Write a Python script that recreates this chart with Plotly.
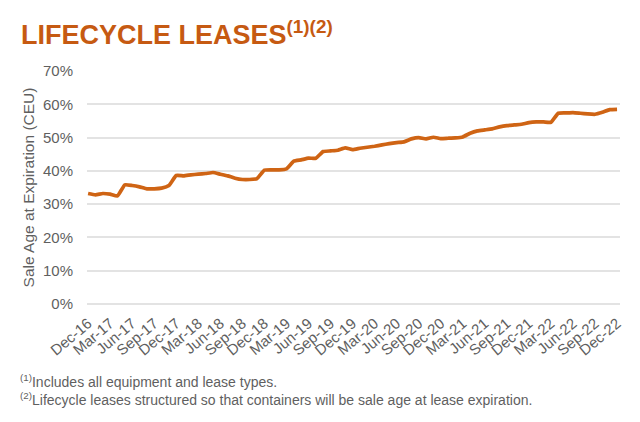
import pandas as pd
import plotly.graph_objects as go

months = [d.strftime("%b-%y") for d in pd.date_range("2016-12-01", "2022-12-01", freq="MS")]
tick_labels = ["Dec-16", "Mar-17", "Jun-17", "Sep-17", "Dec-17", "Mar-18", "Jun-18", "Sep-18",
               "Dec-18", "Mar-19", "Jun-19", "Sep-19", "Dec-19", "Mar-20", "Jun-20", "Sep-20",
               "Dec-20", "Mar-21", "Jun-21", "Sep-21", "Dec-21", "Mar-22", "Jun-22", "Sep-22", "Dec-22"]
sale_age_pct = [33.2, 32.8, 33.2, 33.0, 32.5, 35.8, 35.6, 35.2, 34.6, 34.6, 34.8, 35.6,
                38.6, 38.5, 38.8, 39.0, 39.2, 39.5, 39.0, 38.5, 37.8, 37.4, 37.4, 37.7,
                40.2, 40.3, 40.3, 40.6, 42.9, 43.3, 43.8, 43.8, 45.8, 46.0, 46.2, 46.9,
                46.4, 46.8, 47.1, 47.4, 47.8, 48.2, 48.5, 48.7, 49.6, 50.0, 49.6, 50.1,
                49.7, 49.8, 49.9, 50.2, 51.3, 52.0, 52.3, 52.6, 53.2, 53.6, 53.8, 54.0,
                54.5, 54.7, 54.7, 54.6, 57.3, 57.4, 57.5, 57.3, 57.1, 57.0, 57.6, 58.4, 58.5]
y_ticks = [0, 10, 20, 30, 40, 50, 60, 70]

orange = "#CF6414"
gray = "#5F5F5F"
grid = "#E3E3E3"

# page has an 8px body margin; work in page pixels and convert
OFF = 8
W, H = 640, 422
L, R, T, B = 87 - OFF, 640 - (620 - OFF), 71 - OFF, 422 - (304 - OFF)
pw, ph = W - L - R, H - T - B


def px_x(x):
    return (x - OFF - L) / pw


def px_y(y):
    return (H - B - (y - OFF)) / ph


fig = go.Figure()
fig.add_trace(go.Scatter(x=months, y=sale_age_pct, mode="lines",
                         line=dict(color=orange, width=3.7, shape="spline", smoothing=0.4),
                         hoverinfo="skip"))

fig.update_layout(
    width=W, height=H,
    paper_bgcolor="white", plot_bgcolor="white",
    margin=dict(l=L, r=R, t=T, b=B, autoexpand=False),
    showlegend=False,
    font=dict(family="Liberation Sans, Arial, sans-serif", color=gray),
    xaxis=dict(type="category", categoryorder="array", categoryarray=months,
               tickmode="array", tickvals=tick_labels, ticktext=tick_labels,
               tickangle=-40, tickfont=dict(size=15, color=gray), ticklabelstandoff=7,
               showgrid=False, showline=False, zeroline=False, ticks="",
               range=[-0.15, 72.4]),
    yaxis=dict(range=[0, 70], tickvals=y_ticks,
               ticktext=[f"{v}%" for v in y_ticks],
               tickfont=dict(size=15, color=gray), showgrid=True, gridcolor=grid,
               gridwidth=1.5, zeroline=True, zerolinecolor=grid, zerolinewidth=1.5,
               showline=False, ticks="", ticklabelstandoff=13,
               title=dict(text="Sale Age at Expiration (CEU)", font=dict(size=15.5, color=gray),
                          standoff=4)),
)

fig.add_annotation(xref="paper", yref="paper", x=px_x(19), y=px_y(33),
                   xanchor="left", yanchor="middle", showarrow=False,
                   text="<b>LIFECYCLE LEASES<sup style='font-size:15px'>(1)(2)</sup></b>",
                   font=dict(size=27, color="#C65A12", family="Liberation Sans, Arial, sans-serif"))
fig.add_annotation(xref="paper", yref="paper", x=px_x(18), y=px_y(381),
                   xanchor="left", yanchor="middle", showarrow=False,
                   text="<sup>(1)</sup>Includes all equipment and lease types.",
                   font=dict(size=14, color=gray))
fig.add_annotation(xref="paper", yref="paper", x=px_x(18), y=px_y(399),
                   xanchor="left", yanchor="middle", showarrow=False,
                   text="<sup>(2)</sup>Lifecycle leases structured so that containers will be sale age at lease expiration.",
                   font=dict(size=14, color=gray))

fig.write_html("out.html")
